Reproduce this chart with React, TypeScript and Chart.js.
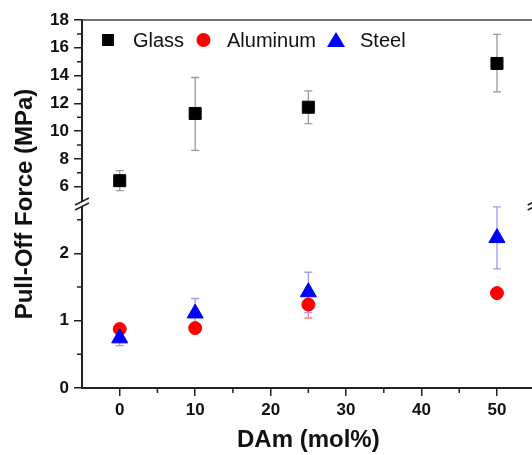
import React, { useEffect, useRef } from 'react';
import { Chart, registerables } from 'chart.js';

Chart.register(...registerables);

// ---- data ----
const molPercent = [0, 10, 25, 50];

const glassForce = [6.43, 11.27, 11.72, 14.87];
const glassLow = [5.71, 8.61, 10.54, 12.82];
const glassHigh = [7.16, 13.86, 12.9, 16.97];

const aluminumForce = [0.876, 0.89, 1.24, 1.41];
const aluminumLow = [0.84, 0.86, 1.04, 1.38];
const aluminumHigh = [0.91, 0.92, 1.44, 1.44];

const steelForce = [0.74, 1.11, 1.425, 2.23];
const steelLow = [0.63, 0.89, 1.12, 1.77];
const steelHigh = [0.86, 1.33, 1.72, 2.69];

const xTicks = [0, 10, 20, 30, 40, 50];
const xMinorTicks = [5, 15, 25, 35, 45, 55];
const yTopTicks = [6, 8, 10, 12, 14, 16, 18];
const yTopMinorTicks = [7, 9, 11, 13, 15, 17];
const yBotTicks = [0, 1, 2];
const yBotMinorTicks = [0.5, 1.5, 2.5];

const seriesNames = ['Glass', 'Aluminum', 'Steel'];
const xTitle = 'DAm (mol%)';
const yTitle = 'Pull-Off Force (MPa)';

const X_MIN = -5;
const X_MAX = 55;
const Y_TOP_MIN = 4.75;
const Y_TOP_MAX = 18;
const Y_BOT_MIN = 0;
const Y_BOT_MAX = 2.734;

const FONT = "'Liberation Sans', Arial, Helvetica, sans-serif";
const AXIS_COLOR = '#222';

const pts = (ys: number[]) => molPercent.map((x, i) => ({ x, y: ys[i] }));

const decorPlugin = {
  id: 'decor',
  beforeDatasetsDraw(chart: any) {
    const { ctx, scales } = chart;
    const x = scales.x;
    const drawErr = (lows: number[], highs: number[], yScale: any, color: string) => {
      ctx.save();
      ctx.strokeStyle = color;
      ctx.lineWidth = 1.3;
      molPercent.forEach((xv, i) => {
        const px = x.getPixelForValue(xv);
        const pl = yScale.getPixelForValue(lows[i]);
        const ph = yScale.getPixelForValue(highs[i]);
        ctx.beginPath();
        ctx.moveTo(px, pl);
        ctx.lineTo(px, ph);
        ctx.moveTo(px - 4, pl);
        ctx.lineTo(px + 4, pl);
        ctx.moveTo(px - 4, ph);
        ctx.lineTo(px + 4, ph);
        ctx.stroke();
      });
      ctx.restore();
    };
    drawErr(glassLow, glassHigh, scales.yTop, '#9a9a9a');
    drawErr(aluminumLow, aluminumHigh, scales.yBot, '#f08080');
    drawErr(steelLow, steelHigh, scales.yBot, '#9c9cf0');
  },
  afterDraw(chart: any) {
    const { ctx, chartArea, scales } = chart;
    const { left, right, top, bottom } = chartArea;
    ctx.save();
    // frame top / right
    ctx.strokeStyle = '#444';
    ctx.lineWidth = 1.5;
    ctx.beginPath();
    ctx.moveTo(left, top);
    ctx.lineTo(right, top);
    ctx.moveTo(right, top);
    ctx.lineTo(right, bottom);
    ctx.stroke();

    // minor ticks
    ctx.strokeStyle = AXIS_COLOR;
    ctx.lineWidth = 1.5;
    ctx.beginPath();
    xMinorTicks.forEach((v) => {
      const px = scales.x.getPixelForValue(v);
      ctx.moveTo(px, bottom);
      ctx.lineTo(px, bottom + 5);
    });
    yTopMinorTicks.forEach((v) => {
      const py = scales.yTop.getPixelForValue(v);
      ctx.moveTo(left, py);
      ctx.lineTo(left - 5, py);
    });
    yBotMinorTicks.forEach((v) => {
      const py = scales.yBot.getPixelForValue(v);
      ctx.moveTo(left, py);
      ctx.lineTo(left - 5, py);
    });
    ctx.stroke();

    // axis break marks
    const joint = scales.yBot.top;
    const drawBreak = (ax: number) => {
      ctx.fillStyle = '#fff';
      ctx.beginPath();
      ctx.moveTo(ax - 7, joint + 1);
      ctx.lineTo(ax + 7, joint - 6);
      ctx.lineTo(ax + 7, joint - 1);
      ctx.lineTo(ax - 7, joint + 6);
      ctx.closePath();
      ctx.fill();
      ctx.strokeStyle = AXIS_COLOR;
      ctx.lineWidth = 1.5;
      ctx.beginPath();
      ctx.moveTo(ax - 7, joint + 1);
      ctx.lineTo(ax + 7, joint - 6);
      ctx.moveTo(ax - 7, joint + 6);
      ctx.lineTo(ax + 7, joint - 1);
      ctx.stroke();
    };
    drawBreak(left);
    drawBreak(right);

    // axis titles
    ctx.fillStyle = '#111';
    ctx.font = `bold 24px ${FONT}`;
    ctx.textAlign = 'center';
    ctx.textBaseline = 'middle';
    ctx.fillText(xTitle, (left + right) / 2, 440);
    ctx.save();
    ctx.translate(25, (top + bottom) / 2);
    ctx.rotate(-Math.PI / 2);
    ctx.fillText(yTitle, 0, 0);
    ctx.restore();

    // legend
    const ly = top + 20;
    ctx.font = `20px ${FONT}`;
    ctx.textAlign = 'left';
    ctx.textBaseline = 'middle';
    // Glass square
    ctx.fillStyle = '#000';
    ctx.fillRect(left + 20, ly - 6, 12, 12);
    ctx.fillStyle = '#111';
    ctx.fillText(seriesNames[0], left + 51, ly + 1);
    // Aluminum circle
    ctx.fillStyle = '#ff0000';
    ctx.beginPath();
    ctx.arc(left + 121.5, ly, 7, 0, Math.PI * 2);
    ctx.fill();
    ctx.fillStyle = '#111';
    ctx.fillText(seriesNames[1], left + 145, ly + 1);
    // Steel triangle
    ctx.fillStyle = '#0000ff';
    ctx.beginPath();
    ctx.moveTo(left + 254, ly - 8);
    ctx.lineTo(left + 263, ly + 7);
    ctx.lineTo(left + 245, ly + 7);
    ctx.closePath();
    ctx.fill();
    ctx.fillStyle = '#111';
    ctx.fillText(seriesNames[2], left + 278, ly + 1);
    ctx.restore();
  },
};

const tickFont = { family: FONT, size: 17, weight: 'bold' as const };

const yScaleBase = (min: number, max: number, ticks: number[]) => ({
  type: 'linear' as const,
  position: 'left' as const,
  stack: 'force',
  stackWeight: 1,
  min,
  max,
  afterBuildTicks: (s: any) => {
    s.ticks = ticks.map((v) => ({ value: v }));
  },
  afterFit: (s: any) => {
    s.width = 82;
  },
  ticks: { font: tickFont, color: '#111', padding: 5, autoSkip: false },
  grid: {
    display: true,
    drawOnChartArea: false,
    drawTicks: true,
    tickLength: 8,
    color: AXIS_COLOR,
    lineWidth: 1.5,
  },
  border: { display: true, color: AXIS_COLOR, width: 2 },
});

export default function App() {
  const canvasRef = useRef<HTMLCanvasElement | null>(null);

  useEffect(() => {
    const canvas = canvasRef.current;
    if (!canvas) return;
    const chart = new Chart(canvas, {
      type: 'scatter',
      data: {
        datasets: [
          {
            label: seriesNames[0],
            data: pts(glassForce),
            yAxisID: 'yTop',
            pointStyle: 'rect',
            pointRadius: 8.5,
            backgroundColor: '#000',
            borderColor: '#000',
            borderWidth: 1,
            order: 0,
          },
          {
            label: seriesNames[1],
            data: pts(aluminumForce),
            yAxisID: 'yBot',
            pointStyle: 'circle',
            pointRadius: 6.5,
            backgroundColor: '#ff0000',
            borderColor: '#ff0000',
            borderWidth: 1,
            order: 2,
          },
          {
            label: seriesNames[2],
            data: pts(steelForce),
            yAxisID: 'yBot',
            pointStyle: 'triangle',
            pointRadius: 9.3,
            backgroundColor: '#0000ff',
            borderColor: '#0000ff',
            borderWidth: 1,
            order: 1,
          },
        ],
      },
      options: {
        animation: false,
        responsive: false,
        devicePixelRatio: 1,
        layout: { padding: { top: 20, right: 10, left: 0, bottom: 0 } },
        plugins: {
          legend: { display: false },
          tooltip: { enabled: false },
        },
        scales: {
          x: {
            type: 'linear',
            position: 'bottom',
            min: X_MIN,
            max: X_MAX,
            afterBuildTicks: (s: any) => {
              s.ticks = xTicks.map((v) => ({ value: v }));
            },
            afterFit: (s: any) => {
              s.height = 67;
            },
            ticks: { font: tickFont, color: '#111', padding: 4, maxRotation: 0, autoSkip: false },
            grid: {
              display: true,
              drawOnChartArea: false,
              drawTicks: true,
              tickLength: 8,
              color: AXIS_COLOR,
              lineWidth: 1.5,
            },
            border: { display: true, color: AXIS_COLOR, width: 2 },
          },
          yBot: yScaleBase(Y_BOT_MIN, Y_BOT_MAX, yBotTicks),
          yTop: yScaleBase(Y_TOP_MIN, Y_TOP_MAX, yTopTicks),
        } as any,
      },
      plugins: [decorPlugin],
    });
    return () => chart.destroy();
  }, []);

  return (
    <div
      style={{
        position: 'fixed',
        left: 0,
        top: 0,
        width: 532,
        height: 455,
        overflow: 'hidden',
        background: '#fff',
      }}
    >
      <canvas ref={canvasRef} width={545} height={455} style={{ display: 'block' }} />
    </div>
  );
}
